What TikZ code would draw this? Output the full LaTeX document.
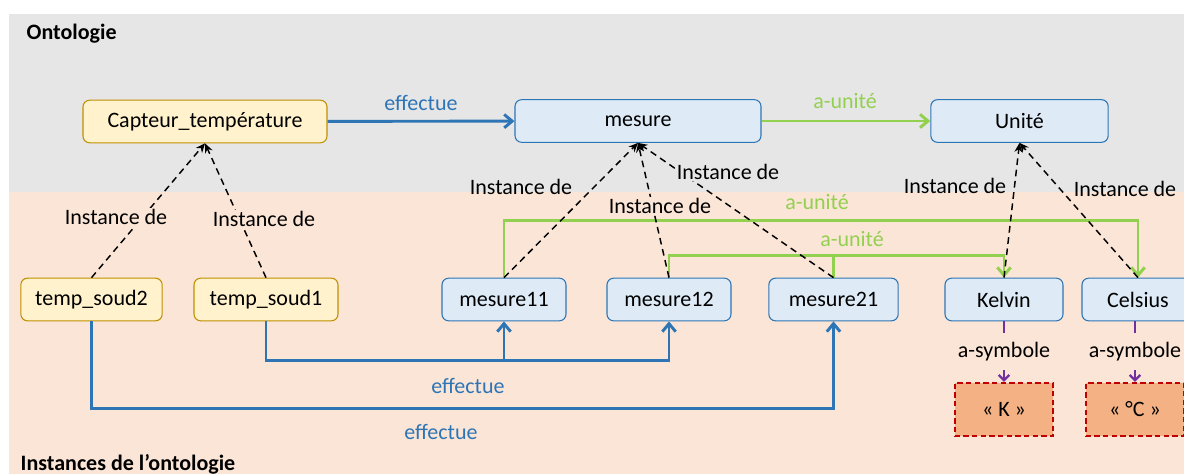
\documentclass[tikz,border=0pt]{standalone}
\usepackage{fontspec}
\setmainfont{Carlito}
\usetikzlibrary{arrows.meta}
\definecolor{bandgrey}{HTML}{E7E6E6}
\definecolor{bandpeach}{HTML}{FBE5D6}
\definecolor{classfill}{HTML}{DEEBF7}
\definecolor{classline}{HTML}{2E75B6}
\definecolor{capfill}{HTML}{FFF2CC}
\definecolor{capline}{HTML}{BF9000}
\definecolor{relblue}{HTML}{2E75B6}
\definecolor{relgreen}{HTML}{92D050}
\definecolor{relpurple}{HTML}{7030A0}
\definecolor{symfill}{HTML}{F4B183}
\definecolor{symline}{HTML}{C00000}
\tikzstyle{classe} = [draw=classline, fill=classfill, line width=0.8pt, rounded corners=5pt, minimum height=32pt, inner sep=0pt]
\tikzstyle{capteur} = [classe, draw=capline, fill=capfill]
\tikzstyle{symbole} = [draw=symline, fill=symfill, dash pattern=on 4pt off 2.5pt, line width=1.3pt, minimum width=74pt, minimum height=40pt, inner sep=0pt]
\tikzstyle{inst} = [dash pattern=on 5pt off 3.5pt, line width=1.1pt, -{Stealth[length=7pt,width=6pt]}]
\tikzstyle{effectue} = [relblue, line width=2.2pt, -{Straight Barb[length=6pt,width=10pt]}]
\tikzstyle{aunite} = [relgreen, line width=2.2pt, -{Straight Barb[length=6pt,width=10pt]}]
\tikzstyle{asymb} = [relpurple, line width=1.8pt, -{Straight Barb[length=4pt,width=8pt]}]

\begin{document}
\begin{tikzpicture}[x=0.75pt, y=-0.75pt, font=\fontsize{16.5}{20}\selectfont]
\clip (0,0) rectangle (1184,474);
% bandes de fond
\fill[bandgrey] (9,14) rectangle (1184,192);
\fill[bandpeach] (9,192) rectangle (1184,474);
\node[anchor=west, font=\bfseries\fontsize{16.5}{20}\selectfont] (ontotitre) at (22,34) {Ontologie};
\node[anchor=west, font=\bfseries\fontsize{16.5}{20}\selectfont] (insttitre) at (16,464) {Instances de l’ontologie};

% classes
\node[capteur, minimum width=183pt] (cap) at (205,121.5) {Capteur\_température};
\node[classe, minimum width=184.5pt] (mes) at (638,121) {mesure};
\node[classe, minimum width=133pt] (uni) at (1019.5,121) {Unité};

% instances
\node[capteur, minimum width=106pt] (ts2) at (91.5,299.5) {temp\_soud2};
\node[capteur, minimum width=108pt] (ts1) at (266,299.5) {temp\_soud1};
\node[classe, minimum width=93pt] (m11) at (504,299.5) {mesure11};
\node[classe, minimum width=93pt] (m12) at (669,299.5) {mesure12};
\node[classe, minimum width=97pt] (m21) at (833.5,299.5) {mesure21};
\node[classe, minimum width=88.5pt] (kel) at (1004,299.5) {Kelvin};
\node[classe, minimum width=84pt] (cel) at (1138,299.5) {Celsius};
\node[symbole] (symk) at (1004,409.5) {« K »};
\node[symbole] (symc) at (1135,409.5) {« °C »};

% relations de la classe
\draw[effectue] (cap) -- (mes);
\node[relblue] (effcap) at (421,103) {effectue};
\draw[aunite] (mes) -- (uni);
\node[relgreen] (aumes) at (845,101) {a-unité};

% a-unite des instances
\draw[aunite] (m11.north) -- ++(0,-57) -| (cel.north);
\node[relgreen] (au1) at (817,202) {a-unité};
\draw[aunite] (m12.north) -- ++(0,-22) -| (kel.north);
\draw[relgreen, line width=2.2pt] (m21.north) -- ++(0,-22);
\node[relgreen] (au2) at (852,239) {a-unité};

% instance de
\draw[inst] (ts2.north) -- (cap.south);
\draw[inst] (ts1.north) -- (cap.south);
\draw[inst] (m11.north) -- (mes.south);
\draw[inst] (m12.north) -- (mes.south);
\draw[inst] (m21.north) -- (mes.south);
\draw[inst] (kel.north) -- (uni.south);
\draw[inst] (cel.north) -- (uni.south);
\node[fill=bandpeach, inner sep=1pt] (i1) at (116,217) {Instance de};
\node[fill=bandpeach, inner sep=1pt] (i2) at (264,219) {Instance de};
\node (i3) at (521,187) {Instance de};
\node[fill=bandpeach, inner sep=1pt] (i4) at (660,206) {Instance de};
\node[fill=bandgrey, inner sep=1pt] (i5) at (728,172) {Instance de};
\node (i6) at (955,186) {Instance de};
\node (i7) at (1125,189) {Instance de};

% effectue des instances
\draw[effectue] (ts1.south) -- ++(0,39) -| (m12.south);
\draw[effectue] (ts1.south) ++(0,39) -| (m11.south);
\node[relblue] (eff1) at (468,386) {effectue};
\draw[effectue] (ts2.south) -- ++(0,87) -| (m21.south);
\node[relblue] (eff2) at (441,432) {effectue};

% symboles
\draw[asymb] (kel) -- node[fill=bandpeach, text=black, inner sep=0pt, minimum height=28pt] (ask) {a-symbole} (symk);
\draw[asymb] (cel.south -| symc) -- node[fill=bandpeach, text=black, inner sep=0pt, minimum height=28pt] (asc) {a-symbole} (symc);
\end{tikzpicture}
\end{document}
